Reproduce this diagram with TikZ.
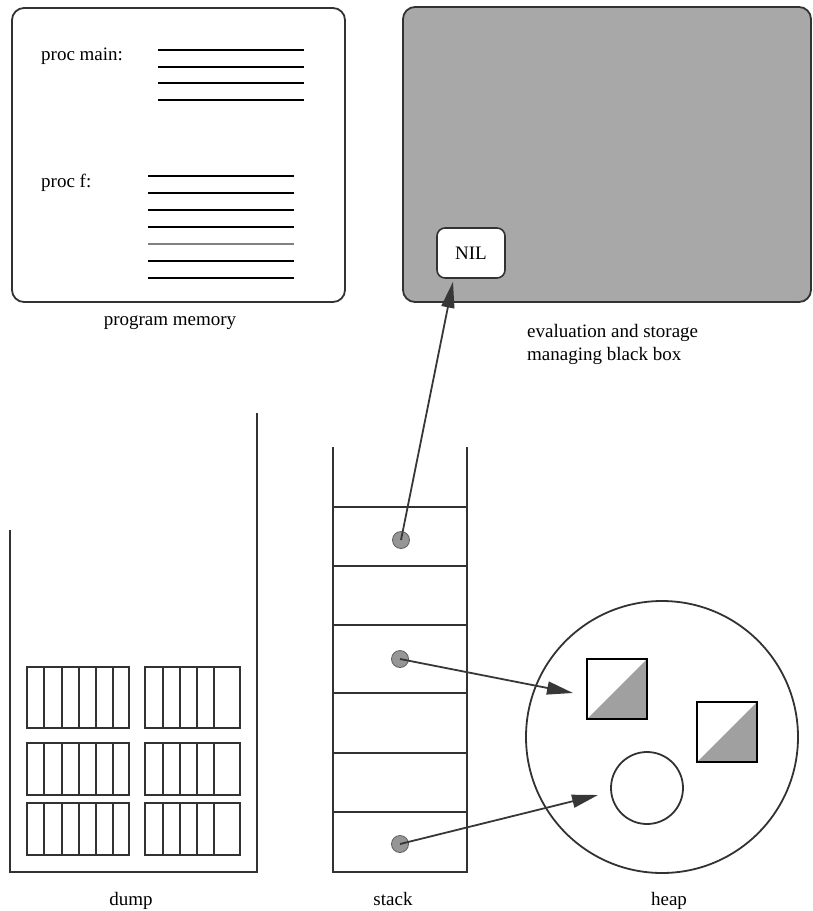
\documentclass[tikz,border=0pt]{standalone}
\usepackage{fontspec}
\setmainfont{Liberation Serif}
\usetikzlibrary{arrows.meta}
\definecolor{boxStroke}{RGB}{50,50,50}
\definecolor{blackboxFill}{RGB}{168,168,168}
\definecolor{dotFill}{RGB}{150,150,150}
\definecolor{arrowStroke}{RGB}{55,55,55}
\definecolor{cellFill}{RGB}{160,160,160}
\newcommand{\dumprow}[2]{%
  \draw[cellstroke] (27,#1) rectangle (129,#2);
  \foreach \x in {44,62,79,96,113}{%
    \draw[cellstroke] (\x,#1) -- (\x,#2);
  }%
  \draw[cellstroke] (145,#1) rectangle (240,#2);
  \foreach \x in {163,180,197,214}{%
    \draw[cellstroke] (\x,#1) -- (\x,#2);
  }%
}
\newcommand{\heapcell}[2]{%
  \fill[cellFill] (#1,#2+60) -- ++(60,-60) -- ++(0,60) -- cycle;
  \draw[black,line width=1.8pt] (#1,#2) rectangle ++(60,60);
}
\tikzset{
  label/.style={font=\fontsize{19}{23}\selectfont,inner sep=0pt},
  cellstroke/.style={boxStroke,line width=1.7pt},
  wall/.style={boxStroke,line width=1.8pt},
  codeline/.style={black,line width=2pt},
  stackdot/.style={circle,fill=dotFill,draw=arrowStroke!80,line width=0.8pt,minimum size=17pt,inner sep=0pt},
  pointer/.style={arrowStroke,line width=1.8pt,-{Triangle[length=26pt,width=13pt]}}
}
\begin{document}
\begin{tikzpicture}[x=1pt,y=-1pt]
  \useasboundingbox (0,0) rectangle (812,911);
  % program memory
  \draw[wall,rounded corners=12pt] (12,8) rectangle (345,302);
  \node[label,anchor=base west] (main) at (41,60) {proc main:};
  \foreach \y in {50,67,83,100}
    \draw[codeline] (158,\y) -- (304,\y);
  \node[label,anchor=base west] (procf) at (41,187) {proc f:};
  \foreach \y in {176,193,210,227,261,278}
    \draw[codeline] (148,\y) -- (294,\y);
  \draw[codeline,gray] (148,244) -- (294,244);
  \node[label,anchor=base] (progmem) at (170,325) {program memory};
  % black box
  \draw[wall,fill=blackboxFill,rounded corners=12pt] (403,7) rectangle (811,302);
  \node[label,draw=boxStroke,fill=white,line width=1.6pt,rounded corners=8pt,
        minimum width=68pt,minimum height=50pt] (nil) at (471,253) {NIL};
  \node[label,anchor=base west,align=left] (blackbox) at (527,360)
    {evaluation and storage\\managing black box};
  % dump
  \draw[wall] (10,530) -- (10,872) -- (257,872) -- (257,413);
  \dumprow{667}{728}
  \dumprow{743}{795}
  \dumprow{803}{855}
  \node[label,anchor=base] (dump) at (131,905) {dump};
  % stack
  \draw[wall] (333,447) -- (333,872) -- (467,872) -- (467,447);
  \foreach \y in {507,566,625,693,753,812}
    \draw[wall] (333,\y) -- (467,\y);
  \node[stackdot] (s1) at (401,540) {};
  \node[stackdot] (s2) at (400,659) {};
  \node[stackdot] (s3) at (400,844) {};
  \node[label,anchor=base] (stack) at (393,905) {stack};
  % heap
  \node[circle,draw=boxStroke,line width=1.8pt,minimum size=272pt,inner sep=0pt] (heap) at (662,737) {};
  \heapcell{587}{659}
  \heapcell{697}{702}
  \node[circle,draw=boxStroke,line width=1.8pt,minimum size=72pt,inner sep=0pt] (free) at (647,788) {};
  \node[label,anchor=base] (heaplbl) at (669,905) {heap};
  \coordinate (c1) at (573,693);
  \coordinate (c2) at (598,795);
  % pointers
  \draw[pointer] (s1.center) -- ([xshift=-18pt,yshift=-3pt]nil.south);
  \draw[pointer] (s2.center) -- (c1);
  \draw[pointer] (s3.center) -- (c2);
\end{tikzpicture}
\end{document}
